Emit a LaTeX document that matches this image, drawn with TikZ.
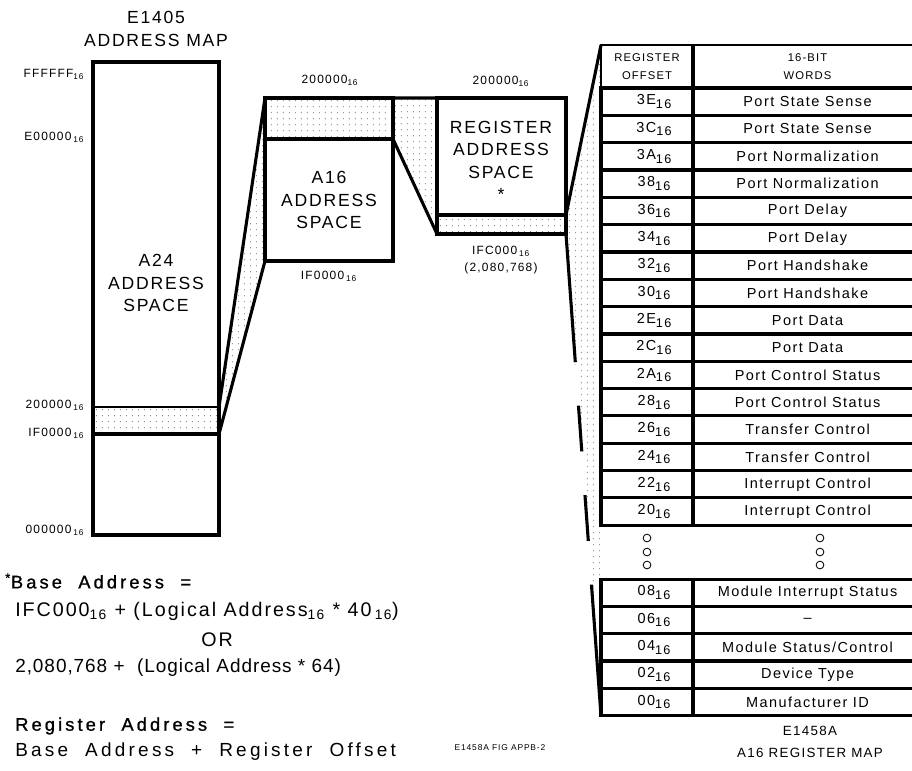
\documentclass[tikz,border=0pt]{standalone}
\usepackage{fontspec}
\setmainfont{Liberation Sans}[LetterSpace=10]
\newfontfamily\widefont{Liberation Sans}[LetterSpace=17, WordSpace=2]
\newfontfamily\headfont{Liberation Sans}[LetterSpace=17, WordSpace=2, FakeBold=1]
\newfontfamily\tightfont{Liberation Sans}[LetterSpace=5]
\usepackage{tikz}
\usetikzlibrary{positioning,fit,backgrounds,patterns}

\pgfdeclarepatternformonly{sparsedots}{\pgfpointorigin}{\pgfpoint{4pt}{4.5pt}}{\pgfpoint{4pt}{4.5pt}}%
  {\pgfpathcircle{\pgfpoint{1pt}{1pt}}{0.42pt}\pgfusepath{fill}}
\newcommand{\hexnum}[1]{#1\textsubscript{16}}
\newcommand{\hexgap}[1]{#1\,\textsubscript{16}}
\newcommand{\offs}[1]{\hspace*{10pt}#1\raisebox{-2.6pt}{\fontsize{9}{9}\selectfont 16}}

\begin{document}
\begin{tikzpicture}[
  x=0.025cm, y=-0.025cm,
  mapbox/.style={draw, line width=2.4pt, inner sep=0pt, outer sep=0pt},
  band/.style={pattern=sparsedots, pattern color=black!60},
  thinline/.style={line width=1.2pt},
  thickline/.style={line width=2.2pt},
  bigtext/.style={align=center, font=\fontsize{12.5}{16}\selectfont},
  addr/.style={font=\fontsize{8.5}{10}\selectfont, inner sep=1pt},
  headcell/.style={draw, line width=1.2pt, outer sep=0pt, inner sep=0pt, align=center,
    minimum width=2.3cm, minimum height=1.075cm, font=\fontsize{8}{12.5}\selectfont},
  offcell/.style={draw, line width=2.2pt, outer sep=0pt, inner sep=0pt,
    minimum width=2.3cm, minimum height=0.683cm, font=\fontsize{10.3}{11}\selectfont},
  wordcell/.style={offcell, minimum width=5.725cm},
  ring/.style={circle, draw, line width=0.6pt, minimum size=5.5pt, inner sep=0pt},
  formula/.style={anchor=west, inner sep=0pt, font=\fontsize{14}{15}\selectfont}
]
\useasboundingbox (0,0) rectangle (912,770);

% E1405 map and the two blown-up spaces
\node[mapbox, fit={(93,62) (219,535)}] (a24) {};
\node[mapbox, fit={(265,98) (393,261)}] (a16) {};
\node[mapbox, fit={(437,98) (566,234)}] (reg) {};
\coordinate (a24top) at (219,407);
\coordinate (a24bot) at (219,434);
\coordinate (a16cut) at (393,139);
\coordinate (regcut) at (566,215);

\node[bigtext] (title) at (156,29) {E1405\\ADDRESS\ MAP};
\node[bigtext] (a24lbl) at (156,283) {A24\\ADDRESS\\SPACE};
\node[bigtext] (a16lbl) at (329,200) {A16\\ADDRESS\\SPACE};
\node[bigtext] (reglbl) at (501,161) {REGISTER\\ADDRESS\\SPACE\\*};

\node[addr, anchor=east] (lfff) at (86,74) {\hexnum{FFFFFF}};
\node[addr, anchor=east] (le00) at (86,137) {\hexgap{E00000}};
\node[addr, anchor=east] (l200) at (86,405) {\hexgap{200000}};
\node[addr, anchor=east] (lif0) at (86,433) {\hexgap{IF0000}};
\node[addr, anchor=east] (l000) at (86,530) {\hexgap{000000}};
\node[addr] (a16top) at (330,80) {\hexnum{200000}};
\node[addr] (regtop) at (501,81) {\hexnum{200000}};
\node[addr] (a16bot) at (329,276) {\hexgap{IF0000}};
\node[addr, align=center] (regbot) at (501,260) {\hexgap{IFC000}\\[2pt](2,080,768)};

% A16 register map
\node[headcell] (hoff) at (647,66.5) {REGISTER\\OFFSET};
\node[headcell, minimum width=5.725cm, right=0pt of hoff] (hword) {16-BIT\\WORDS};
\node[offcell, below=0pt of hoff] (o3E) {\offs{3E}};
\node[wordcell, right=0pt of o3E] (w3E) {Port State Sense};
\node[offcell, below=0pt of o3E] (o3C) {\offs{3C}};
\node[wordcell, right=0pt of o3C] (w3C) {Port State Sense};
\node[offcell, below=0pt of o3C] (o3A) {\offs{3A}};
\node[wordcell, right=0pt of o3A] (w3A) {Port Normalization};
\node[offcell, below=0pt of o3A] (o38) {\offs{38}};
\node[wordcell, right=0pt of o38] (w38) {Port Normalization};
\node[offcell, below=0pt of o38] (o36) {\offs{36}};
\node[wordcell, right=0pt of o36] (w36) {Port Delay};
\node[offcell, below=0pt of o36] (o34) {\offs{34}};
\node[wordcell, right=0pt of o34] (w34) {Port Delay};
\node[offcell, below=0pt of o34] (o32) {\offs{32}};
\node[wordcell, right=0pt of o32] (w32) {Port Handshake};
\node[offcell, below=0pt of o32] (o30) {\offs{30}};
\node[wordcell, right=0pt of o30] (w30) {Port Handshake};
\node[offcell, below=0pt of o30] (o2E) {\offs{2E}};
\node[wordcell, right=0pt of o2E] (w2E) {Port Data};
\node[offcell, below=0pt of o2E] (o2C) {\offs{2C}};
\node[wordcell, right=0pt of o2C] (w2C) {Port Data};
\node[offcell, below=0pt of o2C] (o2A) {\offs{2A}};
\node[wordcell, right=0pt of o2A] (w2A) {Port Control Status};
\node[offcell, below=0pt of o2A] (o28) {\offs{28}};
\node[wordcell, right=0pt of o28] (w28) {Port Control Status};
\node[offcell, below=0pt of o28] (o26) {\offs{26}};
\node[wordcell, right=0pt of o26] (w26) {Transfer Control};
\node[offcell, below=0pt of o26] (o24) {\offs{24}};
\node[wordcell, right=0pt of o24] (w24) {Transfer Control};
\node[offcell, below=0pt of o24] (o22) {\offs{22}};
\node[wordcell, right=0pt of o22] (w22) {Interrupt Control};
\node[offcell, below=0pt of o22] (o20) {\offs{20}};
\node[wordcell, right=0pt of o20] (w20) {Interrupt Control};

\node[ring] (dl1) at (647,538) {};
\node[ring] (dl2) at (647,552) {};
\node[ring] (dl3) at (647,565) {};
\node[ring] (dr1) at (820,538) {};
\node[ring] (dr2) at (820,552) {};
\node[ring] (dr3) at (820,565) {};

\node[offcell] (o08) at (647,592.7) {\offs{08}};
\node[wordcell, right=0pt of o08] (w08) {Module Interrupt Status};
\node[offcell, below=0pt of o08] (o06) {\offs{06}};
\node[wordcell, right=0pt of o06] (w06) {--};
\node[offcell, below=0pt of o06] (o04) {\offs{04}};
\node[wordcell, right=0pt of o04] (w04) {Module Status/Control};
\node[offcell, below=0pt of o04] (o02) {\offs{02}};
\node[wordcell, right=0pt of o02] (w02) {Device Type};
\node[offcell, below=0pt of o02] (o00) {\offs{00}};
\node[wordcell, right=0pt of o00] (w00) {Manufacturer ID};

\draw[thickline] (hoff.north east) -- (hoff.south east);

\begin{scope}[on background layer]
\fill[band] (93,407) rectangle (a24bot);
\fill[band] (a16.north west) rectangle (a16cut);
\fill[band] (437,215) rectangle (reg.south east);
\fill[band] (a24top) -- (a16.north west) -- (a16.south west) -- (a24bot) -- cycle;
\fill[band] (a16.north east) -- (reg.north west) -- (reg.south west) -- (a16cut) -- cycle;
\fill[band] (regcut) -- (hoff.north west) -- (o00.south west) -- (reg.south east) -- cycle;
\end{scope}

\draw[thinline] (93,407) -- (a24top);
\draw[thickline] (93,434) -- (a24bot);
\draw[thickline] (265,139) -- (a16cut);
\draw[thickline] (437,215) -- (regcut);
\draw[thickline] (a24top) -- (a16.north west);
\draw[thickline] (a24bot) -- (a16.south west);
\draw[thickline] (a16.north east) -- (reg.north west);
\draw[thickline] (a16cut) -- (reg.south west);
\draw[thickline] (regcut) -- (hoff.north west);
\draw[thickline, dash pattern=on 91.4pt off 31pt on 32.6pt off 31.2pt on 32.6pt off 31.2pt on 100pt]
  (reg.south east) -- (o00.south west);

% formulas
\node[formula, font=\fontsize{13}{15}\headfont] (base) at (5,581) {\textsuperscript{*}Base Address =};
\node[formula] (hexform) at (15,611) {\hexnum{IFC000} + (Logical Address\textsubscript{16} * 40\,\textsubscript{16})};
\node[formula, anchor=center] (orword) at (217,640) {OR};
\node[formula, font=\fontsize{13.5}{15}\tightfont] (decform) at (15,668) {2,080,768 + \ (Logical Address * 64)};
\node[formula, font=\fontsize{13}{15}\headfont] (regaddr) at (15,726) {Register Address =};
\node[formula, font=\fontsize{13.5}{15}\widefont] (regsum) at (15,752) {Base Address + Register Offset};

\node[font=\fontsize{6}{7}\selectfont] (figid) at (500,748) {E1458A FIG APPB-2};
\node[align=center, font=\fontsize{9.5}{15.5}\selectfont] (tabcap) at (810,742) {E1458A\\A16 REGISTER MAP};
\end{tikzpicture}
\end{document}
